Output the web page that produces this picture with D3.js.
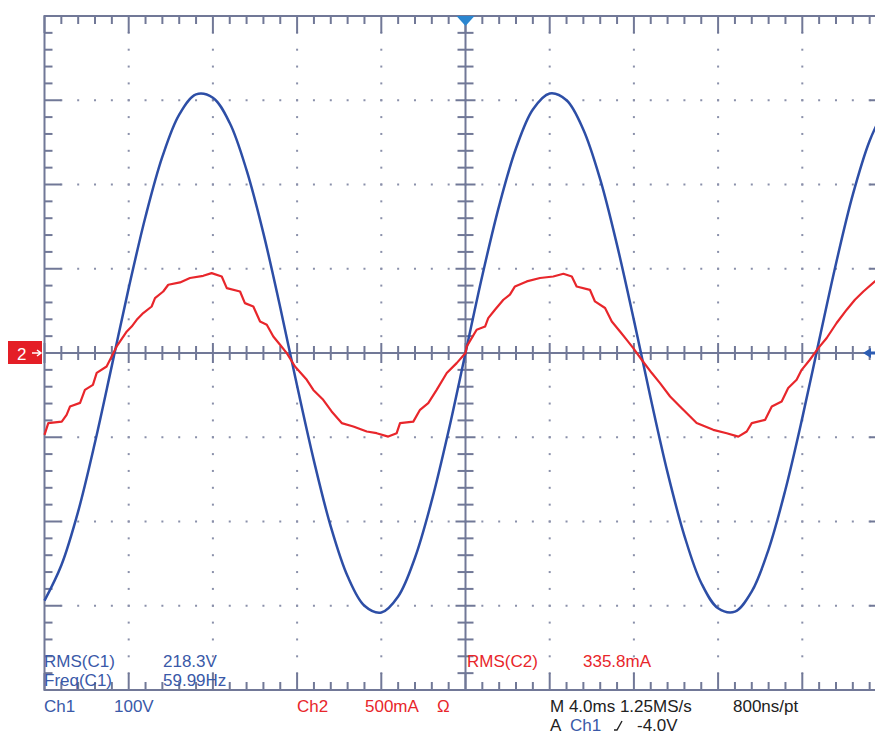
<!DOCTYPE html>
<html><head><meta charset="utf-8">
<script src="https://cdn.jsdelivr.net/npm/d3@7"></script>
<style>
html,body{margin:0;padding:0;background:#fff;overflow:hidden}
text{font-family:"Liberation Sans",Arial,sans-serif;font-size:17px}
</style>
</head><body>
<svg id="c" width="875" height="734"></svg>
<script>
// ---- Data ----
// Channel 1 (voltage, V), sampled every 0.8 ms
const ch1TimeMs = [-20,-19.2,-18.4,-17.6,-16.8,-16,-15.2,-14.4,-13.6,-12.8,-12,-11.2,-10.4,-9.6,-8.8,-8,-7.2,-6.4,-5.6,-4.8,-4,-3.2,-2.4,-1.6,-0.8,0,0.8,1.6,2.4,3.2,4,4.8,5.6,6.4,7.2,8,8.8,9.6,10.4,11.2,12,12.8,13.6,14.4,15.2,16,16.8,17.6,18.4,19.2,20];
const ch1Volts = [-294,-252,-188,-106,-15,77,162,233,283,307,303,273,217,142,54,-39,-128,-206,-265,-300,-308,-289,-243,-175,-92,0,92,175,243,289,308,300,265,206,128,39,-54,-142,-217,-273,-303,-307,-283,-233,-162,-77,15,106,188,252,294];

// Channel 2 (current, mA)
const ch2TimeMs = [-20,-19.82,-19.18,-18.95,-18.79,-18.31,-18.08,-17.7,-17.52,-17.05,-16.81,-16.57,-16.09,-15.86,-15.62,-15.31,-14.91,-14.75,-14.36,-14.12,-13.56,-13.09,-12.46,-12.06,-11.58,-11.34,-10.71,-10.48,-10.08,-9.76,-9.44,-9.13,-8.81,-8.49,-8.1,-7.54,-7.23,-6.76,-6.36,-5.88,-5.33,-4.69,-4.22,-3.67,-3.27,-3.11,-2.48,-2.16,-1.77,-1.37,-0.89,-0.42,0,0.06,0.53,0.93,1.08,1.4,1.8,2.11,2.35,2.91,3.54,4.17,4.65,5.05,5.28,5.91,6.15,6.63,6.95,7.34,7.66,7.97,8.37,8.85,9.24,9.72,10.19,10.67,10.98,11.77,12.41,12.96,13.36,13.6,14.23,14.55,15.02,15.33,15.73,15.97,16.36,16.76,17.16,17.63,18.11,18.5,18.9,19.45,20];
const ch2mA = [-486,-416,-407,-367,-318,-296,-219,-189,-118,-80,-21,39,128,157,197,237,276,326,365,405,419,445,458,474,454,385,365,296,276,187,168,98,49,-1,-80,-159,-219,-278,-347,-416,-436,-466,-476,-496,-476,-416,-407,-337,-298,-219,-119,-60,0,39,138,157,207,257,316,346,395,425,445,454,470,454,395,375,306,267,187,128,78,29,-40,-119,-179,-258,-318,-377,-416,-456,-476,-496,-466,-416,-397,-318,-288,-208,-159,-100,-40,29,89,178,257,316,365,425,440];

// Graticule: 10 x 8 divisions, 5 minor ticks per division
const divX = [-5,5], divY = [-4,4];
const minorPerDiv = 5;

// Readouts
const readoutsLine1 = [{t:"RMS(C1)",x:44,c:"b"},{t:"218.3V",x:163,c:"b"},{t:"RMS(C2)",x:467,c:"r"},{t:"335.8mA",x:583,c:"r"}];
const readoutsLine2 = [{t:"Freq(C1)",x:44,c:"b"},{t:"59.99Hz",x:163,c:"b"}];
const statusLine1 = [{t:"Ch1",x:44,c:"b"},{t:"100V",x:114,c:"b"},{t:"Ch2",x:297,c:"r"},{t:"500mA",x:365,c:"r"},{t:"Ω",x:437,c:"r"},{t:"M 4.0ms 1.25MS/s",x:550,c:"k"},{t:"800ns/pt",x:733,c:"k"}];
const statusLine2 = [{t:"A",x:550,c:"k"},{t:"Ch1",x:570,c:"b"},{t:"-4.0V",x:637,c:"k"}];

// ---- Drawing ----
const COL = {b:"#3a59a8", r:"#e8262b", k:"#222"};
const GRID = "#717897", DOT = "#8a90aa";
const svg = d3.select("#c");

const L=44.5, R=886.5, T=16, B=690;
const gx = d3.scaleLinear().domain(divX).range([L,R]);
const gy = d3.scaleLinear().domain(divY).range([B,T]);
const xT = d3.scaleLinear().domain([-20,20]).range([L,R]);
const yV = d3.scaleLinear().domain([-400,400]).range([B,T]);
const yI = d3.scaleLinear().domain([-2000,2000]).range([B,T]);

const minX = d3.range(divX[0]*minorPerDiv, divX[1]*minorPerDiv+1).map(d=>d/minorPerDiv);
const minY = d3.range(divY[0]*minorPerDiv, divY[1]*minorPerDiv+1).map(d=>d/minorPerDiv);
const isMajor = d => Math.abs(d-Math.round(d))<1e-9;

// dotted grid
const g = svg.append("g");
const majX = d3.range(divX[0]+1, divX[1]).filter(d=>d!==0);
const majY = d3.range(divY[0]+1, divY[1]).filter(d=>d!==0);
majX.forEach(mx=>{
  minY.filter(v=>v>divY[0]&&v<divY[1]).forEach(v=>{
    g.append("rect").attr("x",gx(mx)-1).attr("y",gy(v)-1).attr("width",2).attr("height",2).attr("fill",DOT);
  });
});
majY.forEach(my=>{
  minX.filter(v=>v>divX[0]&&v<divX[1]).forEach(v=>{
    g.append("rect").attr("x",gx(v)-1).attr("y",gy(my)-1).attr("width",2).attr("height",2).attr("fill",DOT);
  });
});

// ticks
const tk = svg.append("g").attr("stroke",GRID).attr("stroke-width",2);
minX.forEach(v=>{
  const len = isMajor(v)?17:8;
  tk.append("line").attr("x1",gx(v)).attr("x2",gx(v)).attr("y1",T).attr("y2",T+len);
  tk.append("line").attr("x1",gx(v)).attr("x2",gx(v)).attr("y1",B).attr("y2",B-len);
  const c = isMajor(v)?10:7;
  tk.append("line").attr("x1",gx(v)).attr("x2",gx(v)).attr("y1",gy(0)-c).attr("y2",gy(0)+c);
});
minY.forEach(v=>{
  const len = isMajor(v)?17:8;
  tk.append("line").attr("y1",gy(v)).attr("y2",gy(v)).attr("x1",L).attr("x2",L+len);
  tk.append("line").attr("y1",gy(v)).attr("y2",gy(v)).attr("x1",R).attr("x2",R-len);
  const c = isMajor(v)?10:8;
  tk.append("line").attr("y1",gy(v)).attr("y2",gy(v)).attr("x1",gx(0)-c).attr("x2",gx(0)+c);
});
// borders and center lines
tk.append("rect").attr("x",L).attr("y",T).attr("width",R-L).attr("height",B-T).attr("fill","none");
tk.append("line").attr("x1",L).attr("x2",R).attr("y1",gy(0)).attr("y2",gy(0));
tk.append("line").attr("x1",gx(0)).attr("x2",gx(0)).attr("y1",T).attr("y2",B);

// traces
const lineV = d3.line().x((d,i)=>xT(ch1TimeMs[i])).y(d=>yV(d)).curve(d3.curveCatmullRom);
svg.append("path").attr("d",lineV(ch1Volts)).attr("fill","none").attr("stroke","#2d4ea6").attr("stroke-width",2.5);
const lineI = d3.line().x((d,i)=>xT(ch2TimeMs[i])).y(d=>yI(d));
svg.append("path").attr("d",lineI(ch2mA)).attr("fill","none").attr("stroke","#e8262b").attr("stroke-width",2.2).attr("stroke-linejoin","round");

// markers
svg.append("path").attr("d",`M${gx(0)-9},${T} L${gx(0)+9},${T} L${gx(0)},${T+10} Z`).attr("fill","#2b86d0");
const cy = gy(0);
svg.append("rect").attr("x",8).attr("y",cy-12).attr("width",34).attr("height",23).attr("fill","#e41e26");
svg.append("text").attr("x",17).attr("y",cy+7).attr("fill","#fff").text("2");
svg.append("path").attr("d",`M32,${cy} L40,${cy} M37,${cy-3} L41,${cy} L37,${cy+3}`).attr("stroke","#fff").attr("stroke-width",1.5).attr("fill","none");
svg.append("path").attr("d",`M863,${cy} L871,${cy-5} L871,${cy-1.5} L876,${cy-1.5} L876,${cy+1.5} L871,${cy+1.5} L871,${cy+5} Z`).attr("fill","#2d5db3");

// texts
function put(arr, y){
  arr.forEach(d=>svg.append("text").attr("x",d.x).attr("y",y).attr("fill",COL[d.c]).text(d.t));
}
put(readoutsLine1, 667);
put(readoutsLine2, 686);
put(statusLine1, 712);
put(statusLine2, 731);
// trigger slope symbol
svg.append("path").attr("d","M614,730 L617,730 L622,721").attr("stroke","#222").attr("stroke-width",1.4).attr("fill","none");
</script>
</body></html>
